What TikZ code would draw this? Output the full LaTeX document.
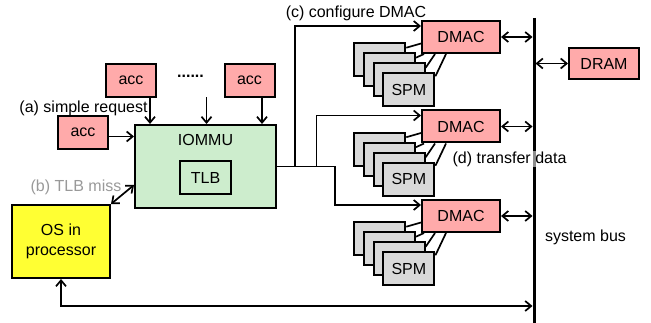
\documentclass[tikz,border=0pt]{standalone}
\usepackage{fontspec}
\setmainfont{Liberation Sans}
\usetikzlibrary{arrows.meta,calc}

\definecolor{accred}{HTML}{FFAAAA}
\definecolor{mmugreen}{HTML}{CDEDCD}
\definecolor{osyellow}{HTML}{FFFF33}
\definecolor{spmgray}{HTML}{D9D9D9}

\begin{document}
\begin{tikzpicture}[x=1pt,y=-1pt,font=\fontsize{16}{19}\selectfont]
  \tikzset{
    box/.style={draw=black, line width=2pt, inner sep=0pt},
    accbox/.style={box, fill=accred, minimum width=50pt, minimum height=33pt},
    dmacbox/.style={box, fill=accred, minimum width=78pt, minimum height=32pt},
    spmbox/.style={box, fill=spmgray, minimum width=51pt, minimum height=33pt, anchor=north west},
    conn/.style={line width=1.7pt, -{Straight Barb[length=6pt,width=10pt]}},
    dconn/.style={line width=1.7pt, {Straight Barb[length=6pt,width=10pt]}-{Straight Barb[length=6pt,width=10pt]}},
    wire/.style={line width=1.7pt}
  }
  \useasboundingbox (0,0) rectangle (651,323);

  % accelerators and the IOMMU
  \node [accbox] (acc1) at (131,80.5) {acc};
  \node [accbox] (acc2) at (249.5,80.5) {acc};
  \node [accbox] (acc3) at (83,132.5) {acc};
  \node [font=\fontsize{16}{19}\bfseries] (dots) at (190.5,76) {......};
  \node (reqa) at (83.5,108) {(a) simple request};

  \node [box, fill=mmugreen, minimum width=141pt, minimum height=83pt] (iommu) at (205.5,166.5) {};
  \node (iommulbl) at (205.5,140) {IOMMU};
  \node [box, fill=mmugreen, minimum width=51pt, minimum height=33pt] (tlb) at (205.5,177.5) {TLB};

  \draw [conn] (acc1.south -| 150,0) -- (iommu.north -| 150,0);
  \draw [conn] (206.5,97.5) -- (iommu.north -| 206.5,0);
  \draw [conn] (acc2.south -| 262,0) -- (iommu.north -| 262,0);
  \draw [conn] (acc3.east |- 0,136.5) -- (iommu.west |- 0,136.5);

  % OS side
  \node [box, fill=osyellow, minimum width=98pt, minimum height=73pt, align=center] (os) at (61,241.5) {OS in\\[1pt]processor};
  \node [text=black!40] (missb) at (76,187) {(b) TLB miss};
  \draw [dconn] (os.north east) -- (iommu.west |- 0,185);

  % system bus and DRAM
  \coordinate (bustop) at (534,18);
  \coordinate (busbot) at (534,323);
  \coordinate (busl) at (532.5,0);
  \coordinate (busr) at (535.5,0);
  \draw [line width=3pt] (bustop) -- (busbot);
  \node (sysbus) at (585.5,237) {system bus};
  \node [accbox, minimum width=70pt, minimum height=31pt] (dram) at (604,63.5) {DRAM};
  \draw [dconn] (dram.west -| busr) -- (dram.west);

  % DMACs with their SPM stacks
  \foreach \n/\t in {1/21,2/110.5,3/200} {
    \node [dmacbox] (dmac\n) at (461,\t+16) {DMAC};
    \draw [dconn] (dmac\n.east) -- (dmac\n.east -| busl);
    \foreach \k in {0,1,2} {
      \node [spmbox] (spm\n\k) at (353.3+9.7*\k,\t+21.3+10*\k) {};
    }
    \node [spmbox] (spm\n3) at (382.4,\t+51.3) {SPM};
    \draw [wire] ($(spm\n0.north east)+(0,5.4)$) -- ($(dmac\n.south west)+(0,-10.5)$);
    \draw [wire] ($(spm\n1.north east)+(0,5.4)$) -- ($(dmac\n.south west)+(3,0)$);
    \draw [wire] ($(spm\n2.north east)+(0,5.4)$) -- ($(dmac\n.south west)+(14,0)$);
    \draw [wire] ($(spm\n3.north east)+(0,4)$) -- ($(dmac\n.south west)+(25,0)$);
    \coordinate (in\n) at ($(dmac\n.north west)+(0,6)$);
  }

  % configuration paths from the IOMMU
  \coordinate (j1) at (295,166.5);
  \coordinate (j2) at (316.5,166.5);
  \coordinate (j3) at (335,166.5);
  \draw [conn] (iommu.east) -- (j3) |- (in3);
  \draw [conn] (j1) |- (in1);
  \draw [conn] (j2) |- (in2);
  \node (cfgc) at (356,13) {(c) configure DMAC};

  \node [fill=white, fill opacity=0.55, text opacity=1, inner sep=1pt] (xferd) at (509.5,159) {(d) transfer data};

  % return path to the processor
  \coordinate (busret) at (532.5,306);
  \draw [dconn] (os.south) |- (busret);
\end{tikzpicture}
\end{document}
